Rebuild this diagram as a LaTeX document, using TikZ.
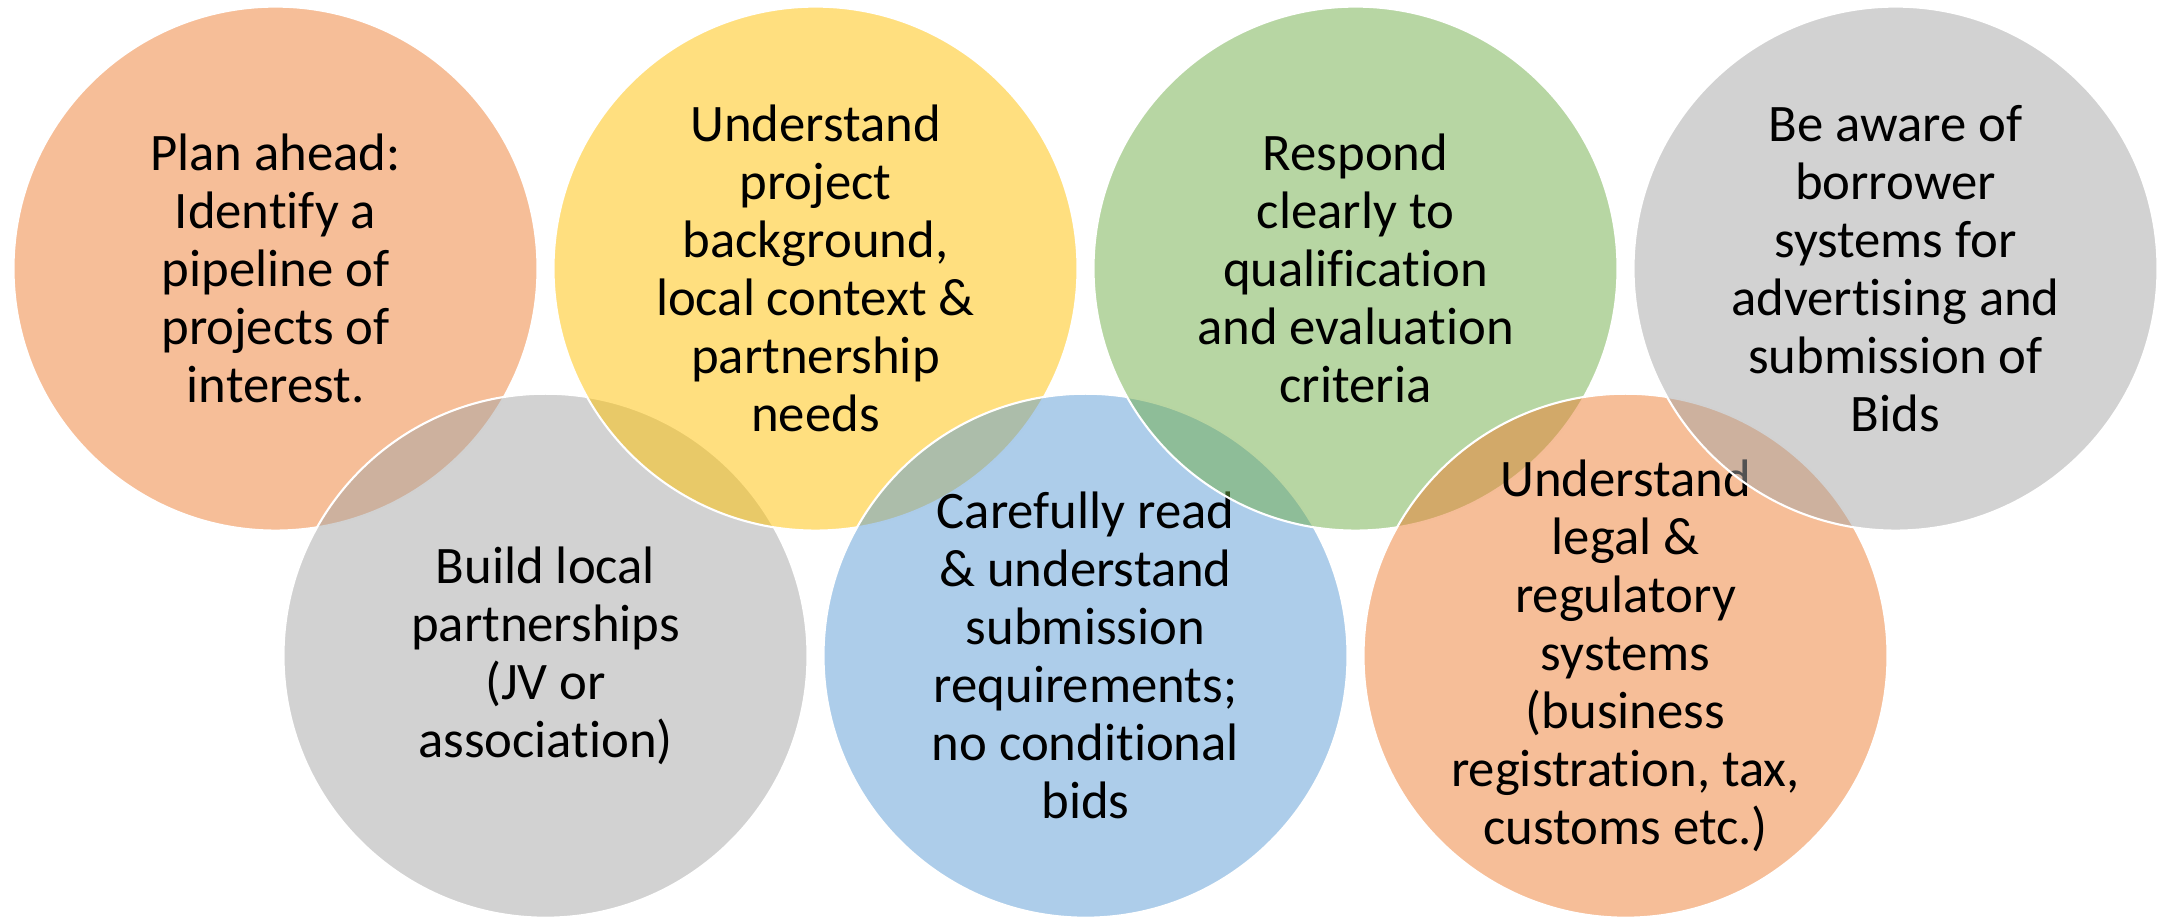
\documentclass[tikz,border=0pt]{standalone}
\usepackage{fontspec}
\setmainfont{Carlito}[Ligatures=NoCommon]
\usepackage{tikz}

\definecolor{vorange}{HTML}{ED7D31}
\definecolor{vgold}{HTML}{FFC000}
\definecolor{vgreen}{HTML}{70AD47}
\definecolor{vgray}{HTML}{A5A5A5}
\definecolor{vblue}{HTML}{5B9BD5}

\begin{document}
\begin{tikzpicture}[
    venn/.style={circle, minimum size=5.24cm, inner sep=0pt, fill opacity=0.5,
        draw=white, draw opacity=1, line width=0.6pt},
    txt/.style={align=center, inner sep=0pt, font=\fontsize{15}{16.5}\selectfont}
  ]
        \useasboundingbox (0, 0) rectangle (21.6, 9.18);

        % drawn in the order of the list, so later circles lie over earlier ones
        \node[venn, fill=vorange] (c1) at (2.755, 6.494) {};
        \node[txt] (t1) at (c1) {Plan ahead:\\Identify a\\pipeline of\\projects of\\interest.};

        \node[venn, fill=vgray] (c5) at (5.455, 2.623) {};
        \node[txt] (t5) at (c5) {Build local\\partnerships\\(JV or\\association)};

        \node[venn, fill=vgold] (c2) at (8.155, 6.494) {};
        \node[txt] (t2) at (c2) {Understand\\project\\background,\\local context \&\\partnership\\needs};

        \node[venn, fill=vblue] (c6) at (10.855, 2.623) {};
        \node[txt] (t6) at (c6) {Carefully read\\\& understand\\submission\\requirements;\\no conditional\\bids};

        \node[venn, fill=vgreen] (c3) at (13.555, 6.494) {};
        \node[txt] (t3) at (c3) {Respond\\clearly to\\qualification\\and evaluation\\criteria};

        \node[venn, fill=vorange] (c7) at (16.255, 2.623) {};
        \node[txt] (t7) at (c7) {Understand\\legal \&\\regulatory\\systems\\(business\\registration, tax,\\customs etc.)};

        \node[venn, fill=vgray] (c4) at (18.955, 6.494) {};
        \node[txt] (t4) at (c4) {Be aware of\\borrower\\systems for\\advertising and\\submission of\\Bids};
    \end{tikzpicture}
\end{document}
